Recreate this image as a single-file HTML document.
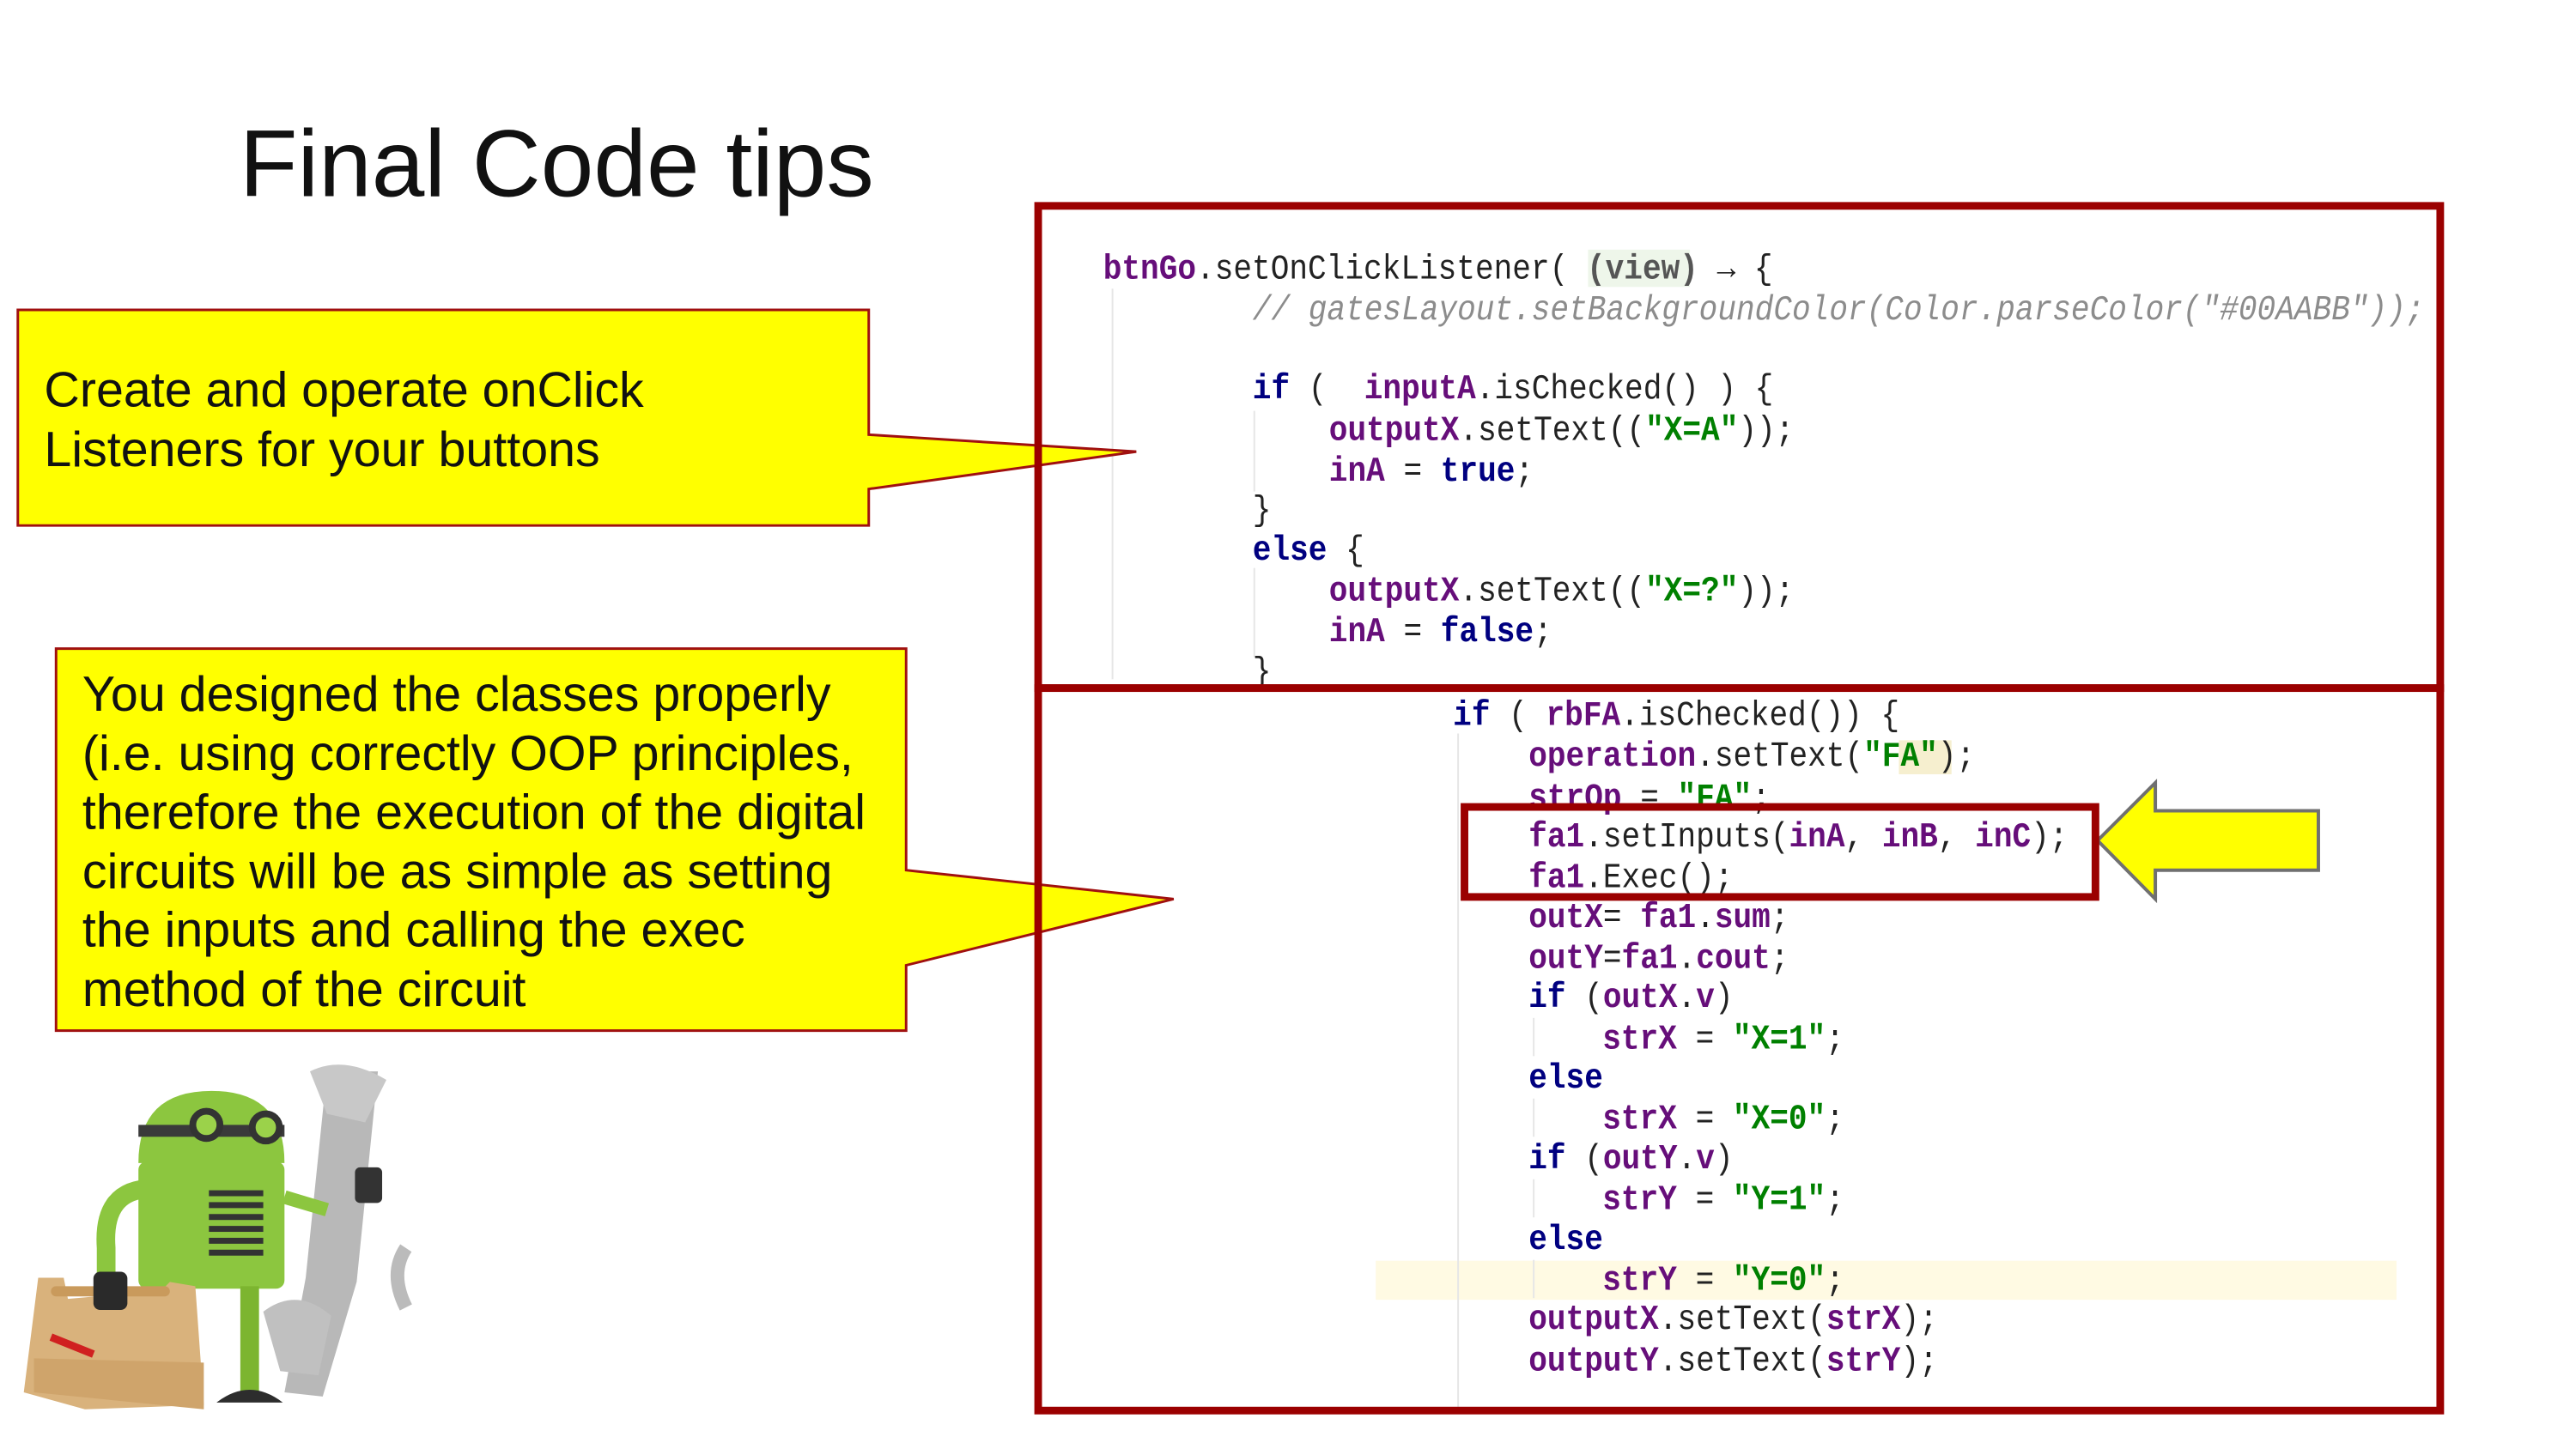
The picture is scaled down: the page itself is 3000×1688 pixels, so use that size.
<!DOCTYPE html>
<html><head><meta charset="utf-8"><style>
html,body{margin:0;padding:0;background:#fff}
body{width:3000px;height:1688px;position:relative;overflow:hidden;font-family:"Liberation Sans",sans-serif}
#w{position:absolute;left:0;top:0;width:3000px;height:1688px;transform:scale(0.989);transform-origin:0 0}
.t{position:absolute;left:282px;top:128px;font-size:112px;color:#111;white-space:nowrap}
.c{position:absolute;font-family:"Liberation Mono",monospace;font-size:36.5px;line-height:48px;white-space:pre;color:#222;transform:translateY(5px) scaleY(1.12);transform-origin:left center}
.f{color:#660e7a;font-weight:bold}
.k{color:#000080;font-weight:bold}
.s{color:#008000;font-weight:bold}
.cm{color:#8c8c8c;font-style:italic}
.box{position:absolute;border:9px solid #9b0000;box-sizing:border-box}
.cl{position:absolute;font-size:58px;line-height:69.5px;color:#111;white-space:nowrap}
</style></head><body><div id="w">
<div class="t">Final Code tips</div>

<svg width="3000" height="1688" style="position:absolute;left:0;top:0">
  <rect x="1620" y="1485" width="1202" height="46" fill="#fffae3"/>
  <rect x="1870" y="294" width="120" height="44" fill="#eef6ea"/>
  <rect x="2236" y="872" width="62" height="40" fill="#f6efcf"/>
  <g stroke="#e6e6e6" stroke-width="2">
    <line x1="1310" y1="340" x2="1310" y2="800"/>
    <line x1="1477" y1="484" x2="1477" y2="579"/>
    <line x1="1477" y1="669" x2="1477" y2="774"/>
    <line x1="1717" y1="864" x2="1717" y2="1660"/>
    <line x1="1806" y1="1199" x2="1806" y2="1244"/>
    <line x1="1806" y1="1294" x2="1806" y2="1339"/>
    <line x1="1806" y1="1389" x2="1806" y2="1434"/>
    <line x1="1806" y1="1484" x2="1806" y2="1529"/>
  </g>
  <polygon points="21,365 1023,365 1023,512 1338,532 1023,576 1023,619 21,619" fill="#ffff00" stroke="#a01010" stroke-width="3"/>
  <polygon points="66,764 1067,764 1067,1025 1382,1059 1067,1137 1067,1214 66,1214" fill="#ffff00" stroke="#a01010" stroke-width="3"/>
  <polygon points="2470,990 2538,922 2538,955 2730,955 2730,1025 2538,1025 2538,1059" fill="#ffff00" stroke="#707070" stroke-width="4"/>
  <g>
    <polygon points="385,1262 445,1262 420,1510 380,1645 335,1640 360,1505" fill="#b8b8b8"/>
    <path d="M365,1262 q40,-20 90,10 l-25,50 l-45,-10 z" fill="#c8c8c8"/>
    <path d="M310,1545 q40,-30 80,5 l-15,70 l-45,-5 z" fill="#c0c0c0"/>
    <rect x="418" y="1375" width="32" height="42" rx="6" fill="#333"/>
    <path d="M180,1400 q-60,0 -55,70 l0,50" stroke="#8cc63f" stroke-width="22" fill="none"/>
    <path d="M163,1370 q0,-85 86,-85 q86,0 86,85 z" fill="#8cc63f"/>
    <rect x="163" y="1368" width="172" height="150" rx="10" fill="#8cc63f"/>
    <rect x="163" y="1325" width="172" height="14" fill="#3a3a3a"/>
    <circle cx="243" cy="1325" r="16" fill="#9bd24a" stroke="#333" stroke-width="8"/>
    <circle cx="313" cy="1328" r="16" fill="#9bd24a" stroke="#333" stroke-width="8"/>
    <g fill="#333"><rect x="246" y="1402" width="64" height="7"/><rect x="246" y="1416" width="64" height="7"/><rect x="246" y="1430" width="64" height="7"/><rect x="246" y="1444" width="64" height="7"/><rect x="246" y="1458" width="64" height="7"/><rect x="246" y="1472" width="64" height="7"/></g>
    <path d="M335,1410 l50,15" stroke="#8cc63f" stroke-width="16"/>
    <rect x="283" y="1515" width="22" height="125" fill="#7cb530"/>
    <path d="M255,1652 q39,-30 78,0 z" fill="#2d2d2d"/>
    <polygon points="45,1505 75,1505 80,1530 190,1520 200,1510 230,1515 240,1655 100,1660 28,1640" fill="#d9b27c"/>
    <rect x="60" y="1515" width="140" height="12" rx="6" fill="#c99a5c"/>
    <rect x="110" y="1498" width="40" height="45" rx="8" fill="#2a2a2a"/>
    <polygon points="40,1600 240,1605 240,1660 40,1640" fill="#cfa46b"/>
    <path d="M60,1575 l50,20" stroke="#d02020" stroke-width="9"/>
    <path d="M478,1470 q-20,30 0,70" stroke="#bbb" stroke-width="16" fill="none"/>
  </g>
</svg>

<div class="cl" style="left:52px;top:425px">Create and operate onClick<br>Listeners for your buttons</div>
<div class="cl" style="left:97px;top:783px">You designed the classes properly<br>(i.e. using correctly OOP principles,<br>therefore the execution of the digital<br>circuits will be as simple as setting<br>the inputs and calling the exec<br>method of the circuit</div>

<div class="c" style="left:1299px;top:289px"><span class="f">btnGo</span>.setOnClickListener( <b style="color:#555">(view)</b> → {</div>
<div class="c cm" style="left:1475px;top:337px">// gatesLayout.setBackgroundColor(Color.parseColor("#00AABB"));</div>
<div class="c" style="left:1475px;top:430px"><span class="k">if</span> (  <span class="f">inputA</span>.isChecked() ) {</div>
<div class="c" style="left:1565px;top:479px"><span class="f">outputX</span>.setText((<span class="s">"X=A"</span>));</div>
<div class="c" style="left:1565px;top:527px"><span class="f">inA</span> = <span class="k">true</span>;</div>
<div class="c" style="left:1475px;top:573px">}</div>
<div class="c" style="left:1475px;top:620px"><span class="k">else</span> {</div>
<div class="c" style="left:1565px;top:668px"><span class="f">outputX</span>.setText((<span class="s">"X=?"</span>));</div>
<div class="c" style="left:1565px;top:716px"><span class="f">inA</span> = <span class="k">false</span>;</div>
<div class="c" style="left:1475px;top:763px">}</div>

<div class="c" style="left:1711px;top:815px"><span class="k">if</span> ( <span class="f">rbFA</span>.isChecked()) {</div>
<div class="c" style="left:1800px;top:863px"><span class="f">operation</span>.setText(<span class="s">"FA"</span>);</div>
<div class="c" style="left:1800px;top:912px"><span class="f">strOp</span> = <span class="s">"FA"</span>;</div>
<div class="c" style="left:1800px;top:958px"><span class="f">fa1</span>.setInputs(<span class="f">inA</span>, <span class="f">inB</span>, <span class="f">inC</span>);</div>
<div class="c" style="left:1800px;top:1006px"><span class="f">fa1</span>.Exec();</div>
<div class="c" style="left:1800px;top:1053px"><span class="f">outX</span>= <span class="f">fa1</span>.<span class="f">sum</span>;</div>
<div class="c" style="left:1800px;top:1101px"><span class="f">outY</span>=<span class="f">fa1</span>.<span class="f">cout</span>;</div>
<div class="c" style="left:1800px;top:1147px"><span class="k">if</span> (<span class="f">outX</span>.<span class="f">v</span>)</div>
<div class="c" style="left:1887px;top:1196px"><span class="f">strX</span> = <span class="s">"X=1"</span>;</div>
<div class="c" style="left:1800px;top:1242px"><span class="k">else</span></div>
<div class="c" style="left:1887px;top:1290px"><span class="f">strX</span> = <span class="s">"X=0"</span>;</div>
<div class="c" style="left:1800px;top:1337px"><span class="k">if</span> (<span class="f">outY</span>.<span class="f">v</span>)</div>
<div class="c" style="left:1887px;top:1385px"><span class="f">strY</span> = <span class="s">"Y=1"</span>;</div>
<div class="c" style="left:1800px;top:1432px"><span class="k">else</span></div>
<div class="c" style="left:1887px;top:1480px"><span class="f">strY</span> = <span class="s">"Y=0"</span>;</div>
<div class="c" style="left:1800px;top:1526px"><span class="f">outputX</span>.setText(<span class="f">strX</span>);</div>
<div class="c" style="left:1800px;top:1575px"><span class="f">outputY</span>.setText(<span class="f">strY</span>);</div>

<div class="box" style="left:1218px;top:238px;width:1660px;height:577px"></div>
<div class="box" style="left:1218px;top:806px;width:1660px;height:860px"></div>
<div class="box" style="left:1720px;top:946px;width:752px;height:115px"></div>
</div></body></html>
